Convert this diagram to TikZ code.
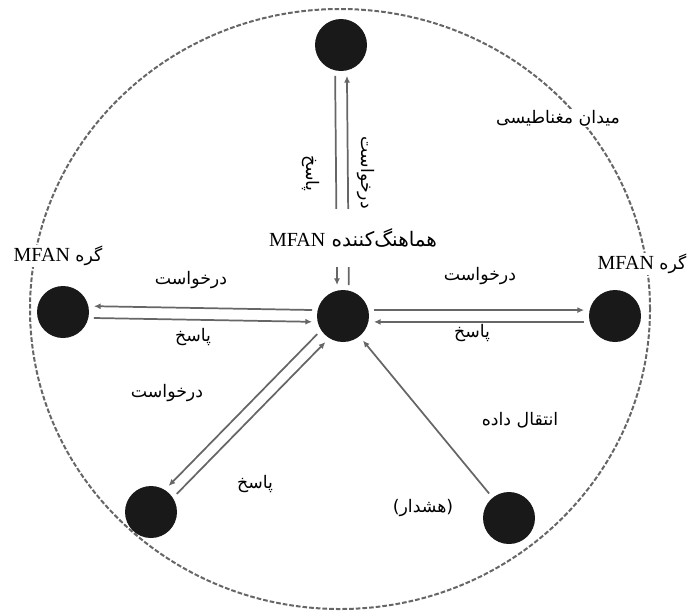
\documentclass[tikz,border=0pt]{standalone}
\usepackage{fontspec}
\usepackage{tikz}
\usetikzlibrary{arrows.meta}
\newfontfamily\arabicfont[Script=Arabic]{DejaVu Sans}
\newfontfamily\latinfont{Liberation Serif}
\TeXXeTstate=1
\newcommand{\fatxt}[1]{{\arabicfont\beginR #1\endR}}
\newcommand{\mfan}{\beginL{\latinfont\fontsize{15}{17}\selectfont MFAN}\endL}

\begin{document}
\begin{tikzpicture}[x=0.75pt, y=-0.75pt,
                    dot/.style={circle, fill=black!90, minimum size=39pt, inner sep=0pt},
                    lbl/.style={font=\fontsize{13}{15}\selectfont, inner sep=1pt},
                    link/.style={draw=black!60, line width=1.3pt, -{Latex[length=5pt,width=4.5pt]},
                                 shorten >=4pt, shorten <=4pt},
                    field/.style={draw=black!60, line width=1.5pt, dash pattern=on 3.5pt off 1.5pt}]
  \useasboundingbox (0,0) rectangle (691,612);
  \draw[field] (340,309) ellipse [x radius=232.5pt, y radius=225pt];

  \node[dot] (top) at (341,45) {};
  \node[dot] (hub) at (343,316) {};
  \node[dot] (left) at (63,312) {};
  \node[dot] (right) at (615,316) {};
  \node[dot] (botleft) at (151,512) {};
  \node[dot] (botright) at (509,518) {};

  \draw[link] (top.257) -- (hub.103);
  \draw[link] (hub.77) -- (top.283);
  \draw[link] (hub.167) -- (left.13);
  \draw[link] (left.347) -- (hub.193);
  \draw[link] (hub.13) -- (right.167);
  \draw[link] (right.193) -- (hub.347);
  \draw[link] (hub.213) -- (botleft.58);
  \draw[link] (botleft.33) -- (hub.238);
  \draw[link] (botright.129) -- (hub.309);

  \node[lbl, fill=white, inner ysep=15pt, font=\fontsize{15}{17}\selectfont] (hublbl) at (353,238) {\fatxt{هماهنگ‌کننده \mfan}};
  \node[lbl, fill=white] (leftlbl) at (58,256) {\fatxt{گره \mfan}};
  \node[lbl, fill=white] (rightlbl) at (642,264) {\fatxt{گره \mfan}};
  \node[lbl, fill=white] (fieldlbl) at (558,118) {\fatxt{میدان مغناطیسی}};

  \node[lbl, rotate=-90] (topresp) at (311,173) {\fatxt{پاسخ}};
  \node[lbl, rotate=-90] (topreq) at (366,173) {\fatxt{درخواست}};
  \node[lbl] (leftreq) at (191,280) {\fatxt{درخواست}};
  \node[lbl] (leftresp) at (193,337) {\fatxt{پاسخ}};
  \node[lbl] (rightreq) at (480,276) {\fatxt{درخواست}};
  \node[lbl] (rightresp) at (472,333) {\fatxt{پاسخ}};
  \node[lbl] (blreq) at (167,393) {\fatxt{درخواست}};
  \node[lbl] (blresp) at (255,484) {\fatxt{پاسخ}};
  \node[lbl] (brdata) at (520,420) {\fatxt{انتقال داده}};
  \node[lbl] (bralarm) at (423,508) {\fatxt{(هشدار)}};
\end{tikzpicture}
\end{document}
